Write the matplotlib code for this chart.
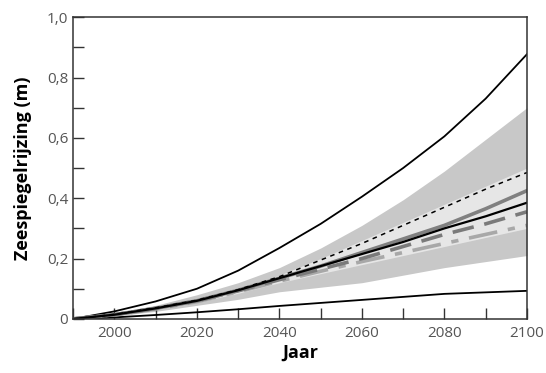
import matplotlib
matplotlib.use("Agg")
import matplotlib.pyplot as plt
from matplotlib.ticker import MultipleLocator, FuncFormatter

years = [1990, 2000, 2010, 2020, 2030, 2040, 2050, 2060, 2070, 2080, 2090, 2100]
upper_black = [0, 0.025, 0.058, 0.10, 0.16, 0.235, 0.315, 0.405, 0.50, 0.605, 0.73, 0.877]
lower_black = [0, 0.005, 0.013, 0.022, 0.032, 0.043, 0.053, 0.063, 0.073, 0.083, 0.088, 0.093]
band_hi = [0, 0.02, 0.045, 0.08, 0.12, 0.17, 0.235, 0.31, 0.395, 0.49, 0.595, 0.70]
band_lo = [0, 0.01, 0.025, 0.045, 0.065, 0.09, 0.105, 0.12, 0.145, 0.17, 0.19, 0.21]
light_hi = [0, 0.016, 0.04, 0.066, 0.10, 0.145, 0.20, 0.26, 0.32, 0.38, 0.44, 0.50]
light_lo = [0, 0.013, 0.033, 0.055, 0.085, 0.12, 0.15, 0.18, 0.21, 0.24, 0.27, 0.30]
short_dash = [0, 0.015, 0.037, 0.062, 0.097, 0.14, 0.195, 0.25, 0.31, 0.37, 0.43, 0.485]
gray_solid = [0, 0.014, 0.035, 0.06, 0.095, 0.135, 0.175, 0.22, 0.265, 0.31, 0.365, 0.425]
black_solid = [0, 0.014, 0.035, 0.06, 0.095, 0.135, 0.175, 0.215, 0.255, 0.30, 0.34, 0.385]
gray_dash = [0, 0.014, 0.035, 0.06, 0.093, 0.13, 0.165, 0.20, 0.24, 0.28, 0.315, 0.355]
gray_dashdot = [0, 0.013, 0.033, 0.057, 0.09, 0.125, 0.158, 0.19, 0.22, 0.25, 0.28, 0.31]

plt.rcParams['font.family'] = ['Open Sans', 'DejaVu Sans']

fig = plt.figure(figsize=(5.46, 3.73), dpi=100)
ax = fig.add_axes([0.134, 0.145, 0.831, 0.809])

ax.fill_between(years, band_lo, band_hi, color='#c8c8c8', lw=0)
ax.fill_between(years, light_lo, light_hi, color='#e6e6e6', lw=0)
ax.plot(years, upper_black, color='black', lw=1.3)
ax.plot(years, lower_black, color='black', lw=1.3)
ax.plot(years, gray_dashdot, color='#a8a8a8', lw=2.6, dashes=(8, 3, 2, 3))
ax.plot(years, gray_dash, color='#7a7a7a', lw=2.6, dashes=(6, 3))
ax.plot(years, gray_solid, color='#808080', lw=2.6)
ax.plot(years, black_solid, color='black', lw=1.6)
ax.plot(years, short_dash, color='black', lw=1.1, dashes=(3, 3))

ax.set_xlim(1990, 2100)
ax.set_ylim(0, 1.0)
ax.xaxis.set_major_locator(MultipleLocator(20))
ax.xaxis.set_minor_locator(MultipleLocator(10))
ax.yaxis.set_major_locator(MultipleLocator(0.2))
ax.yaxis.set_minor_locator(MultipleLocator(0.1))
ax.yaxis.set_major_formatter(FuncFormatter(lambda v, p: '0' if abs(v) < 1e-9 else f'{v:.1f}'.replace('.', ',')))
ax.xaxis.set_major_formatter(FuncFormatter(lambda v, p: '' if v < 1995 else f'{int(round(v))}'))
ax.tick_params(which='both', direction='in', length=8, width=1, color='#333333', labelcolor='#555555', labelsize=11)
ax.tick_params(axis='x', pad=5)
for s in ax.spines.values():
    s.set_color('#333333')
    s.set_linewidth(1.1)

ax.set_xlabel('Jaar', fontsize=13, fontweight='bold', labelpad=2)
ax.set_ylabel('Zeespiegelrijzing (m)', fontsize=13, fontweight='bold', labelpad=11)

fig.savefig('out.png', dpi=100)
